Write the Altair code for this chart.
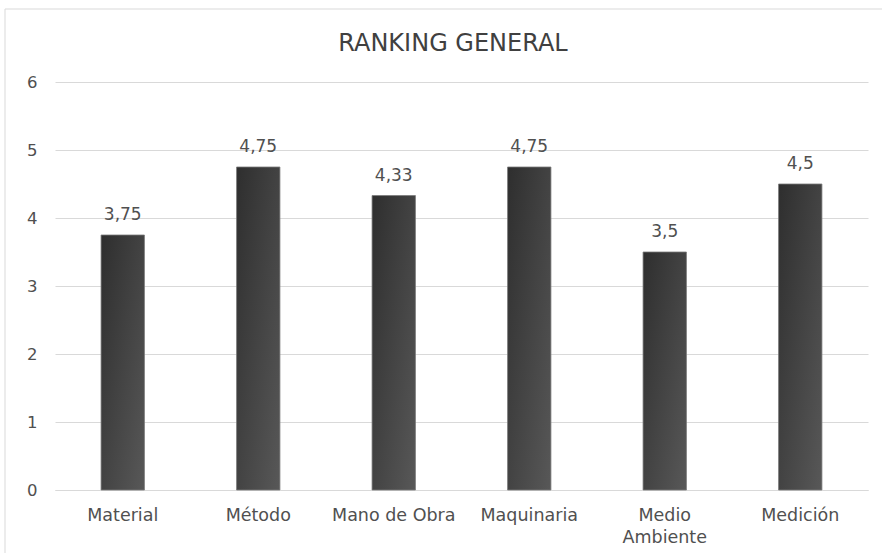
import altair as alt
import pandas as pd

categories = ["Material", "Método", "Mano de Obra", "Maquinaria", "Medio Ambiente", "Medición"]
values = [3.75, 4.75, 4.33, 4.75, 3.5, 4.5]
y_ticks = [0, 1, 2, 3, 4, 5, 6]
title_text = "RANKING GENERAL"

df = pd.DataFrame({"cat": categories, "val": values})

FONT = "DejaVu Sans"
TXT = "#505050"

grad = alt.Gradient(
    gradient="linear",
    stops=[alt.GradientStop(color="#2e2e2e", offset=0),
           alt.GradientStop(color="#585858", offset=1)],
    x1=0, y1=0, x2=1, y2=1,
)

x_enc = alt.X(
    "cat:N", sort=categories,
    scale=alt.Scale(paddingInner=0.68, paddingOuter=0.34),
    axis=alt.Axis(
        title=None, labelAngle=0, ticks=False, domainColor="#d9d9d9",
        labelFont=FONT, labelFontSize=17.5, labelColor=TXT, labelPadding=16,
        labelBaseline="top", labelLineHeight=22,
        labelExpr="datum.label == 'Medio Ambiente' ? ['Medio', 'Ambiente'] : datum.label",
    ),
)
y_enc = alt.Y(
    "val:Q",
    scale=alt.Scale(domain=[0, 6], nice=False),
    axis=alt.Axis(
        title=None, values=y_ticks, ticks=False, domain=False,
        gridColor="#d9d9d9", gridWidth=1,
        labelFont=FONT, labelFontSize=16.5, labelColor=TXT, labelPadding=18,
    ),
)

base = alt.Chart(df).encode(x=x_enc, y=y_enc)

bars = base.mark_bar(color=grad, stroke="#7a7a7a", strokeWidth=0.8)

labels = base.transform_calculate(
    lab="replace(format(datum.val, '.2~f'), '.', ',')"
).mark_text(
    font=FONT, fontSize=17, color=TXT, baseline="alphabetic", dy=-15
).encode(text="lab:N")

frame_df = pd.DataFrame({"a": [0]})
top_line = alt.Chart(frame_df).mark_rule(color="#d9d9d9", strokeWidth=1).encode(
    x=alt.value(-50), x2=alt.value(827), y=alt.value(-73)
)
left_line = alt.Chart(frame_df).mark_rule(color="#d9d9d9", strokeWidth=1).encode(
    x=alt.value(-50), y=alt.value(-73), y2=alt.value(471)
)
title = alt.Chart(pd.DataFrame({"t": [title_text]})).mark_text(
    font=FONT, fontSize=24, color="#404040", baseline="alphabetic", align="center"
).encode(text="t:N", x=alt.value(398), y=alt.value(-31))

chart = alt.layer(top_line, left_line, bars, labels, title).properties(
    width=813, height=408,
    autosize=alt.AutoSizeParams(type="none"),
    padding={"left": 55, "top": 82, "right": 14, "bottom": 63},
    background="white",
).configure_view(strokeWidth=0)

chart.save("out.html", embed_options={"renderer": "svg", "actions": False})
